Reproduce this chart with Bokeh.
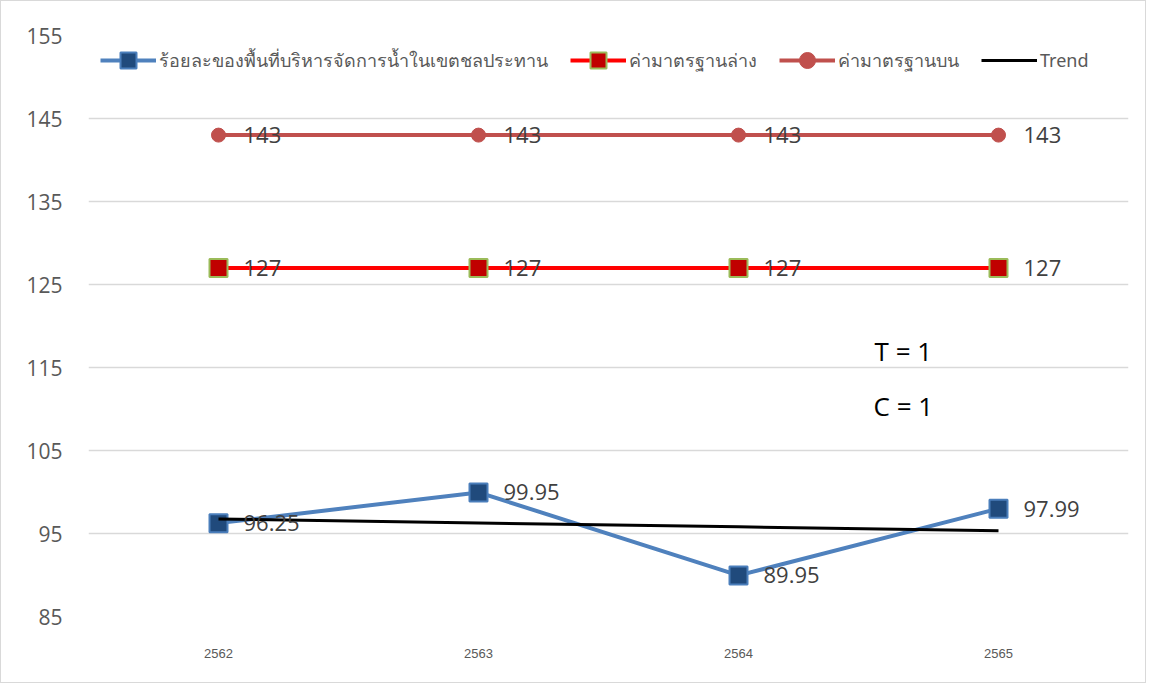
from bokeh.plotting import figure
from bokeh.models import Range1d, FixedTicker, Legend, LegendItem, Label, ColumnDataSource
from bokeh.core.properties import value
from bokeh.embed import file_html
from bokeh.resources import INLINE

years = ["2562", "2563", "2564", "2565"]
pct_area = [96.25, 99.95, 89.95, 97.99]
std_low = [127, 127, 127, 127]
std_high = [143, 143, 143, 143]
trend = [96.75, 96.27, 95.80, 95.32]
y_ticks = [85, 95, 105, 115, 125, 135, 145, 155]

name_pct = "ร้อยละของพื้นที่บริหารจัดการน้ำในเขตชลประทาน"
name_low = "ค่ามาตรฐานล่าง"
name_high = "ค่ามาตรฐานบน"
name_trend = "Trend"

p = figure(x_range=years, y_range=Range1d(85, 155), width=1146, height=683,
           output_backend="svg", toolbar_location=None,
           min_border_left=87, min_border_right=19, min_border_top=34, min_border_bottom=68)
p.outline_line_color = None
p.styles = {"border": "1px solid #d9d9d9"}

p.yaxis.ticker = FixedTicker(ticks=y_ticks)
p.ygrid.ticker = FixedTicker(ticks=y_ticks)
p.ygrid.grid_line_color = "#d9d9d9"
p.ygrid.grid_line_width = 1.5
p.xgrid.grid_line_color = None
for ax in (p.xaxis, p.yaxis):
    ax.axis_line_color = None
    ax.major_tick_line_color = None
    ax.minor_tick_line_color = None
    ax.major_label_text_color = "#595959"
p.yaxis.major_label_text_font = "Open Sans"
p.yaxis.major_label_text_font_size = "21px"
p.yaxis.major_label_standoff = 20
p.xaxis.major_label_text_font = "Liberation Sans"
p.xaxis.major_label_text_font_size = "13px"
p.xaxis.major_label_standoff = 26

src = ColumnDataSource(dict(x=years, pct=pct_area, low=std_low, high=std_high, trend=trend,
                            pct_t=[f"{v:.2f}" for v in pct_area],
                            low_t=[str(v) for v in std_low],
                            high_t=[str(v) for v in std_high]))

l1 = p.line("x", "pct", source=src, line_color="#4f81bd", line_width=4)
m1 = p.scatter("x", "pct", source=src, marker="square", size=18, fill_color="#204a7c",
               line_color="#4a7ebb", line_width=2)
l2 = p.line("x", "low", source=src, line_color="#ff0000", line_width=4)
m2 = p.scatter("x", "low", source=src, marker="square", size=18, fill_color="#c00000",
               line_color="#9bbb59", line_width=2)
l3 = p.line("x", "high", source=src, line_color="#c0504d", line_width=4)
m3 = p.scatter("x", "high", source=src, marker="circle", size=14, fill_color="#c0504d",
               line_color="#c0504d", line_width=1)
l4 = p.line("x", "trend", source=src, line_color="black", line_width=3)

for col, tcol in (("pct", "pct_t"), ("low", "low_t"), ("high", "high_t")):
    p.text("x", col, text=tcol, source=src, x_offset=25, y_offset=0,
           text_font=value("Open Sans"), text_font_size="22px", text_color="#404040",
           text_baseline="middle", text_align="left")

legend = Legend(items=[
    LegendItem(label=name_pct, renderers=[l1, m1]),
    LegendItem(label=name_low, renderers=[l2, m2]),
    LegendItem(label=name_high, renderers=[l3, m3]),
    LegendItem(label=name_trend, renderers=[l4]),
], orientation="horizontal", location=(12, 536), padding=0, margin=0,
    glyph_width=56, glyph_height=40, label_standoff=3, spacing=22,
    background_fill_alpha=0, border_line_color=None,
    label_text_font="Noto Sans", label_text_font_size="18px", label_text_color="#595959")
p.add_layout(legend, "center")

p.add_layout(Label(x=3.16, y=117.0, text="T  =  1", text_font="Open Sans", text_font_size="26px",
                   text_color="black", text_align="center", text_baseline="middle"))
p.add_layout(Label(x=3.16, y=110.4, text="C  =  1", text_font="Open Sans", text_font_size="26px",
                   text_color="black", text_align="center", text_baseline="middle"))

open("out.html", "w").write(file_html(p, INLINE))
